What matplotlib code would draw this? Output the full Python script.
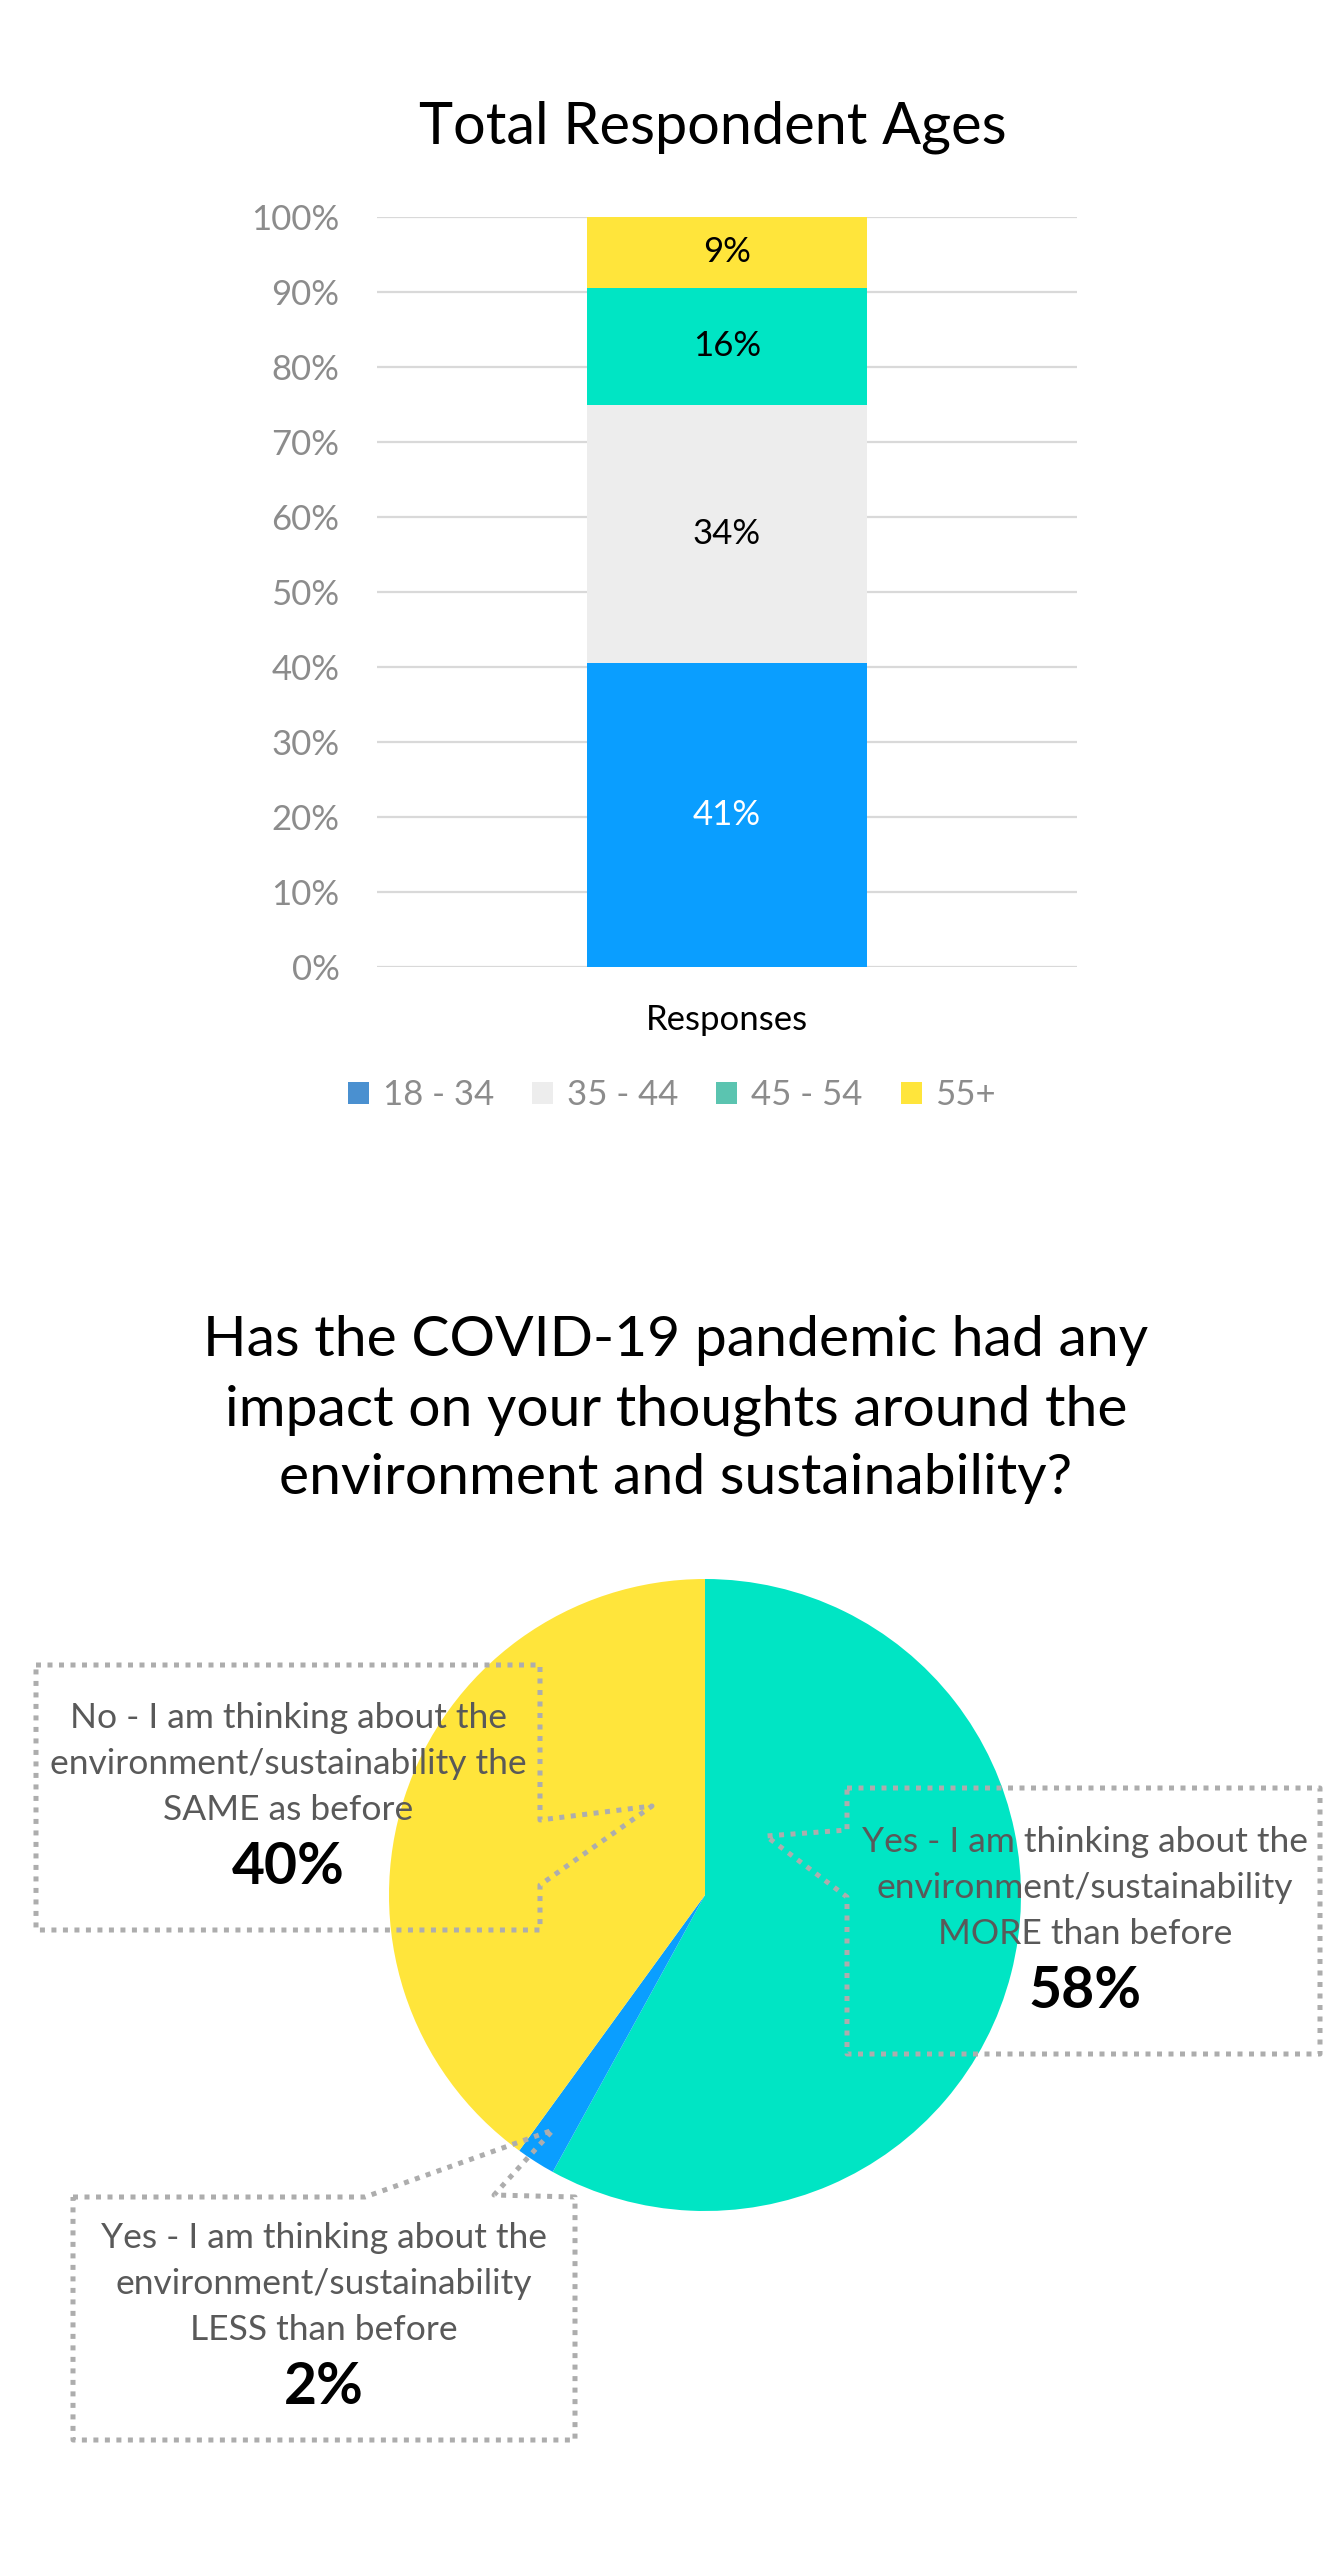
import matplotlib
matplotlib.use("Agg")
import matplotlib.pyplot as plt
from matplotlib.patches import Patch
import numpy as np

plt.rcParams["font.family"] = ["Lato", "DejaVu Sans"]

# ── data ──────────────────────────────────────────────────────────────────────
age_groups = ["18 - 34", "35 - 44", "45 - 54", "55+"]
age_shares = [40.6, 34.3, 15.7, 9.4]
bar_cats = ["Responses"]

impact_labels = [
    "Yes - I am thinking about the\nenvironment/sustainability\nMORE than before",
    "Yes - I am thinking about the\nenvironment/sustainability\nLESS than before",
    "No - I am thinking about the\nenvironment/sustainability the\nSAME as before",
]
impact_shares = [58, 2, 40]

# ── style ─────────────────────────────────────────────────────────────────────
BAR_COLS = ["#0A9EFF", "#EDEDED", "#00E5C4", "#FFE53B"]
LEG_COLS = ["#4A90D0", "#EDEDED", "#5BC4B0", "#FFE53B"]
LBL_COLS = ["white", "black", "black", "black"]
PIE_COLS = ["#00E5C4", "#0A9EFF", "#FFE53B"]
TICK = "#8C8C8C"
GRID = "#D9D9D9"
CALL_TXT = "#595959"
DOT = "#ADADAD"

W, H = 1344, 2558
fig = plt.figure(figsize=(W / 100, H / 100), dpi=100)
fig.patch.set_facecolor("white")


def px_axes(x0, y0, x1, y1):
    # pixel box (top-left origin) -> figure axes
    return fig.add_axes([x0 / W, 1 - y1 / H, (x1 - x0) / W, (y1 - y0) / H])


# ── stacked bar ───────────────────────────────────────────────────────────────
ax = px_axes(377, 217, 1077, 967)
bottom = 0.0
for name, val, col, lc in zip(age_groups, age_shares, BAR_COLS, LBL_COLS):
    bars = ax.bar(bar_cats, [val], bottom=bottom, width=0.4, color=col, zorder=2)
    ax.bar_label(bars, labels=[f"{round(val)}%"], label_type="center",
                 color=lc, fontsize=25)
    bottom += val

ax.set_xlim(-0.5, 0.5)
ax.set_ylim(0, 100)
ax.set_yticks(np.arange(0, 101, 10))
ax.set_yticklabels([f"{t}%" for t in range(0, 101, 10)])
ax.tick_params(axis="y", length=0, pad=27, labelsize=25, labelcolor=TICK)
ax.tick_params(axis="x", length=0, pad=27, labelsize=25, labelcolor="black")
ax.yaxis.grid(True, color=GRID, lw=1.6, zorder=0)
ax.set_axisbelow(True)
for s in ax.spines.values():
    s.set_visible(False)

handles = [Patch(facecolor=c, edgecolor="none", label=g)
           for g, c in zip(age_groups, LEG_COLS)]
leg = fig.legend(handles=handles, loc="center", ncol=4, frameon=False,
                 bbox_to_anchor=(672 / W, 1 - 1095 / H), fontsize=25,
                 handlelength=0.6, handleheight=0.6, handletextpad=0.4,
                 columnspacing=1.1)
for t in leg.get_texts():
    t.set_color(TICK)

# ── pie ───────────────────────────────────────────────────────────────────────
pax = px_axes(389, 1579, 1021, 2211)
pax.pie(impact_shares, colors=PIE_COLS, startangle=90, counterclock=False,
        wedgeprops=dict(linewidth=0))
pax.set_xlim(-1, 1)
pax.set_ylim(-1, 1)
pax.set_aspect("equal")
pax.axis("off")

# ── overlay: titles and callouts (pixel coords) ──────────────────────────────
ov = fig.add_axes([0, 0, 1, 1])
ov.set_xlim(0, W)
ov.set_ylim(H, 0)
ov.axis("off")
ov.patch.set_alpha(0)

ov.text(713, 127, "Total Respondent Ages", fontsize=41.5, ha="center",
        va="center", color="black")

pie_title = ["Has the COVID-19 pandemic had any",
             "impact on your thoughts around the",
             "environment and sustainability?"]
for i, line in enumerate(pie_title):
    ov.text(676, 1341 + i * 69, line, fontsize=41, ha="center",
            va="center", color="black")

callouts = [
    # (outline polygon, text centre x, first line y)
    ([(847, 1788), (1320, 1788), (1320, 2054), (847, 2054), (847, 1897),
      (766, 1836), (847, 1830), (847, 1788)], 1085, 1842),
    ([(73, 2197), (365, 2197), (553, 2130), (494, 2195), (575, 2197),
      (575, 2440), (73, 2440), (73, 2197)], 324, 2238),
    ([(36, 1665), (540, 1665), (540, 1820), (652, 1806), (540, 1885),
      (540, 1930), (36, 1930), (36, 1665)], 288, 1718),
]
for (poly, cx, y0), lab, val in zip(callouts, impact_labels, impact_shares):
    xs, ys = zip(*poly)
    ov.plot(xs, ys, color=DOT, lw=3.6, ls=(0, (1.0, 1.3)),
            dash_capstyle="butt", solid_joinstyle="miter")
    for j, line in enumerate(lab.split("\n")):
        ov.text(cx, y0 + j * 46, line, fontsize=25.5, ha="center",
                va="center", color=CALL_TXT)
    ov.text(cx, y0 + 150, f"{val}%", fontsize=41, fontweight="bold",
            ha="center", va="center", color="black")

fig.savefig("out.png", dpi=100, facecolor="white")
